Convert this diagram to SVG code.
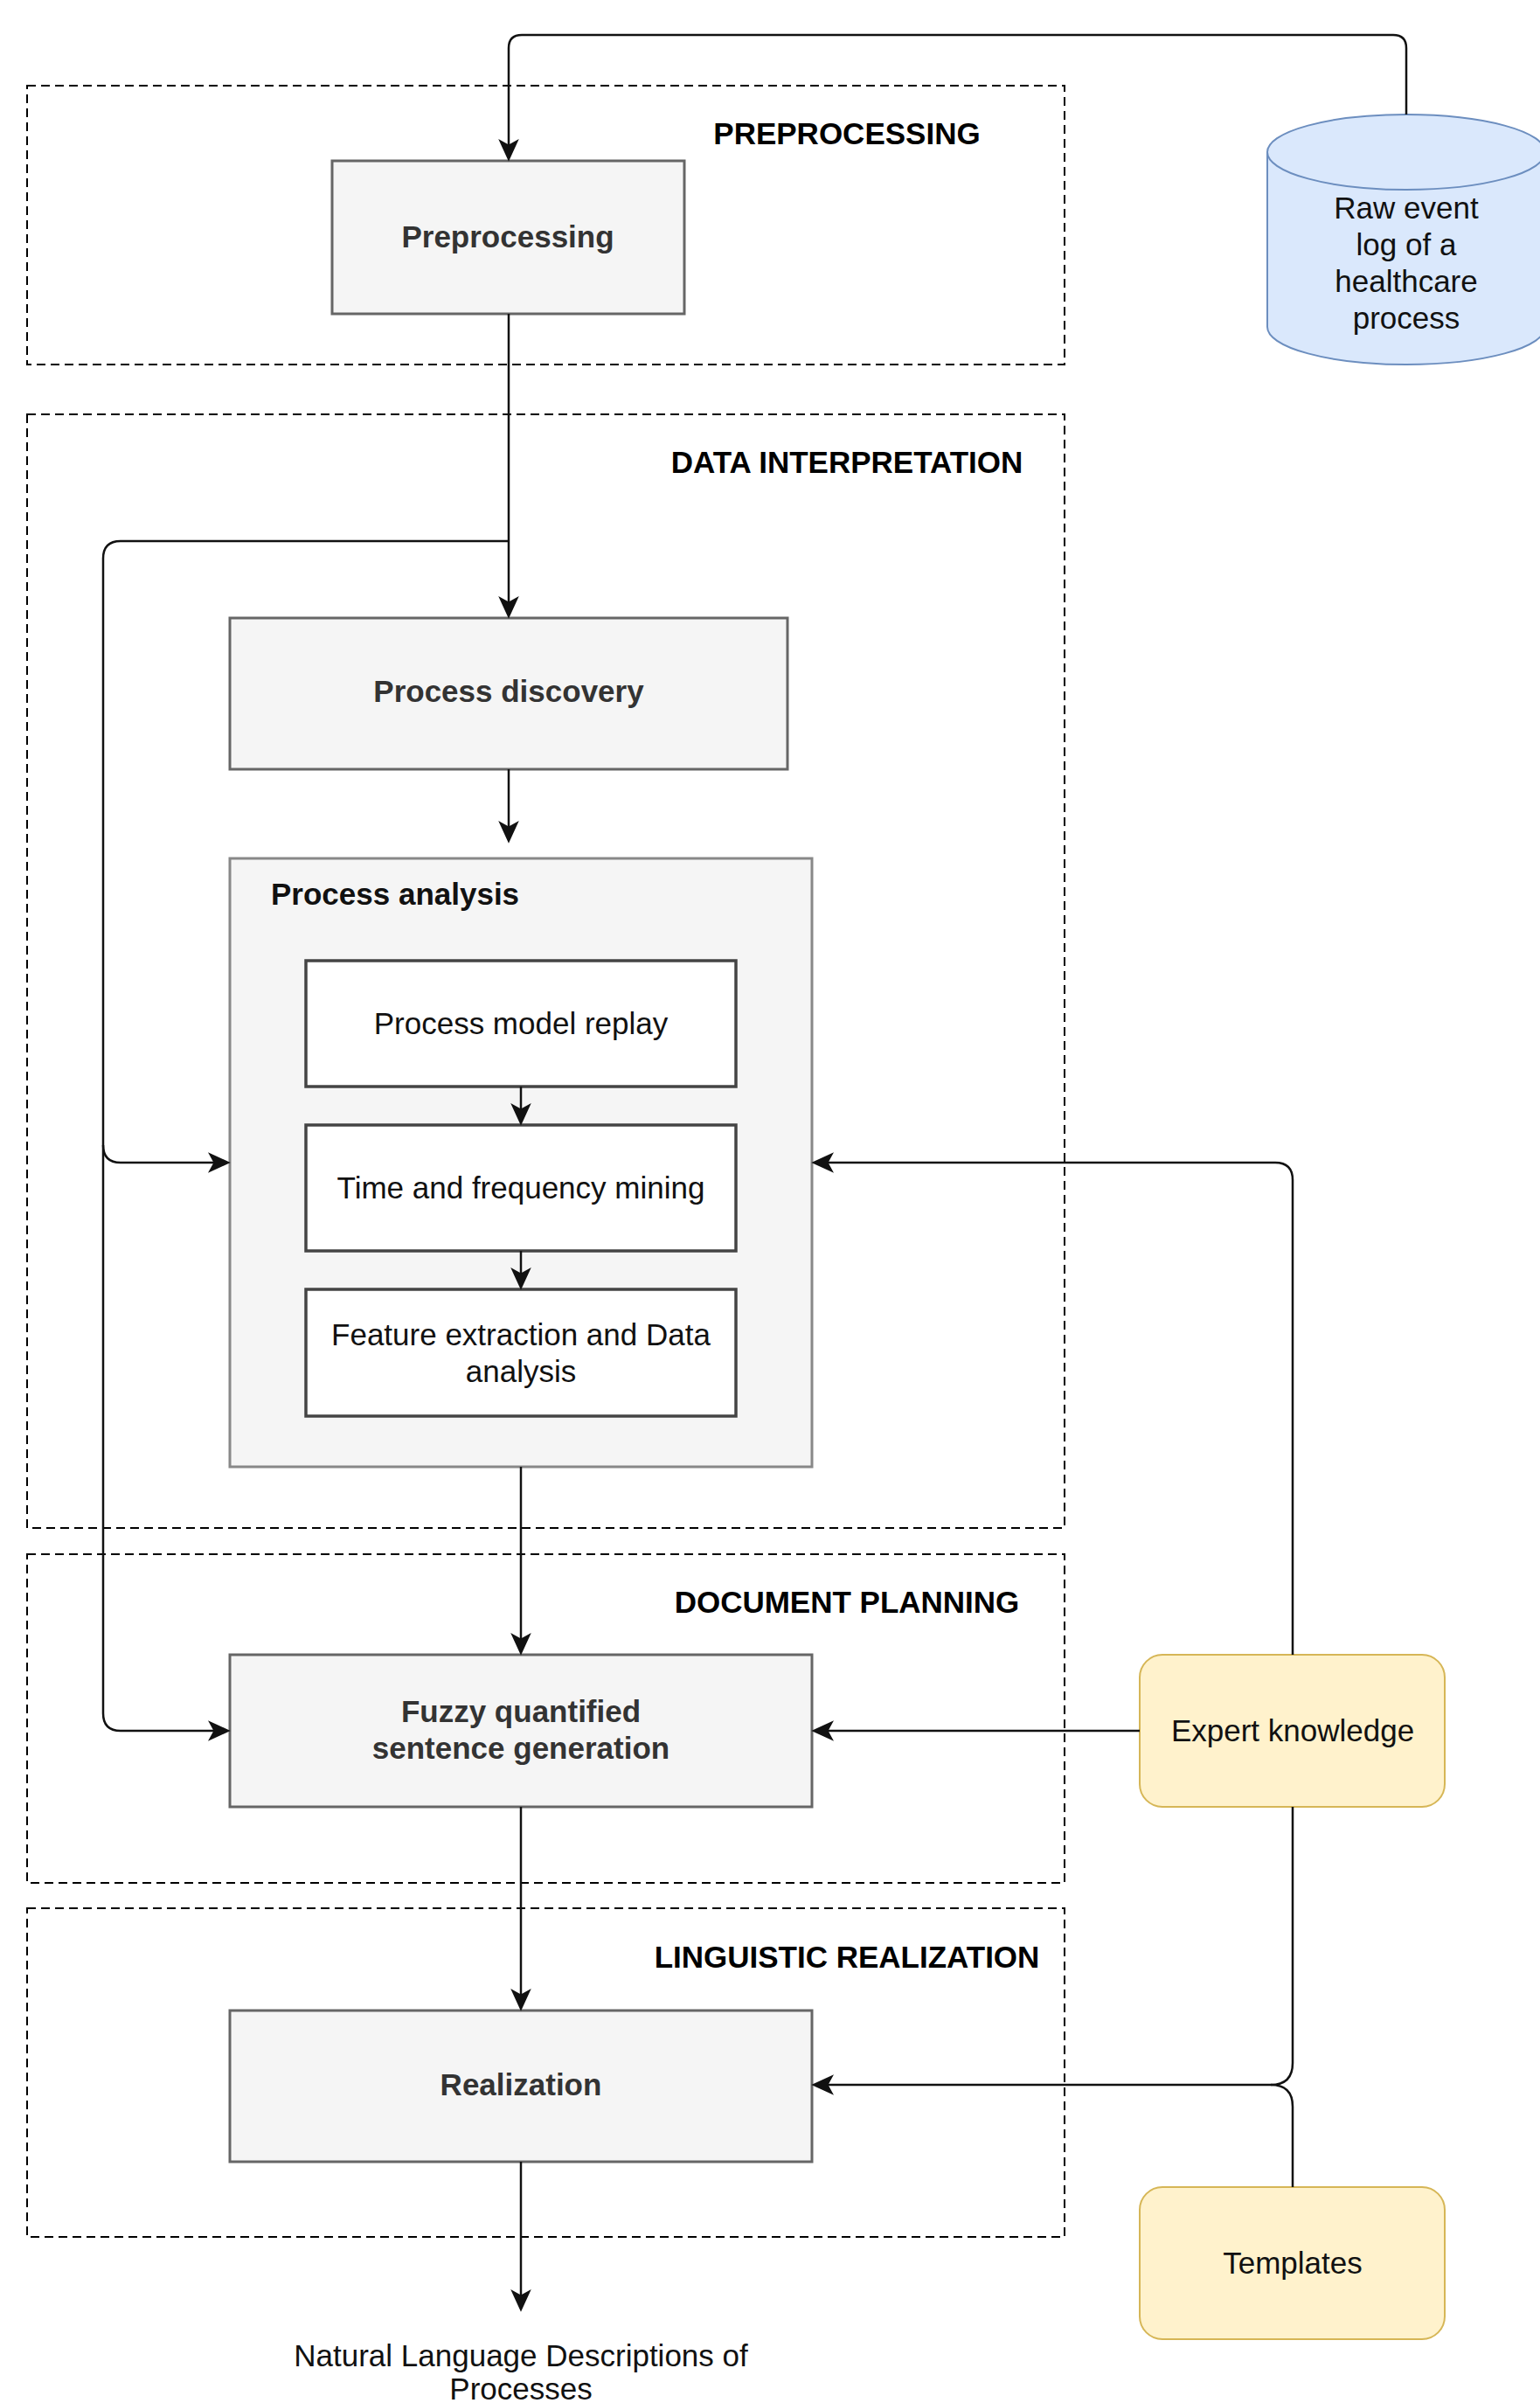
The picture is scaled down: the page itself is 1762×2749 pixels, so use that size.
<svg xmlns="http://www.w3.org/2000/svg" width="1762" height="2749" viewBox="0 0 1762 2749">
<style>
text{font-family:"Liberation Sans",Arial,Helvetica,sans-serif;font-size:35px;text-anchor:middle}
.sec{font-weight:bold;fill:#000}
.bl{font-weight:bold;fill:#333}
.rg{fill:#111}
.dash{fill:none;stroke:#000;stroke-width:2;stroke-dasharray:10 6}
.gbox{fill:#f5f5f5;stroke:#666;stroke-width:3}
.wbox{fill:#fff;stroke:#444;stroke-width:3.5}
.ybox{fill:#fff2cc;stroke:#d6b656;stroke-width:2}
.cn{fill:none;stroke:#111;stroke-width:2.5}
.cna{fill:none;stroke:#111;stroke-width:2.5;marker-end:url(#arr)}
</style>
<defs>
<marker id="arr" markerUnits="userSpaceOnUse" markerWidth="30" markerHeight="30" viewBox="-16 -13 28 26" refX="0" refY="0" orient="auto">
<path d="M10,0 L-14,-11 L-8,0 L-14,11 Z" fill="#111"/>
</marker>
</defs>
<rect width="1762" height="2749" fill="#fff"/>

<g id="sections">
<g id="sec-preprocessing"><rect class="dash" x="31" y="98" width="1187" height="319"/><text class="sec" x="969" y="165">PREPROCESSING</text></g>
<g id="sec-data"><rect class="dash" x="31" y="474" width="1187" height="1274"/><text class="sec" x="969" y="541">DATA INTERPRETATION</text></g>
<g id="sec-doc"><rect class="dash" x="31" y="1778" width="1187" height="376"/><text class="sec" x="969" y="1845">DOCUMENT PLANNING</text></g>
<g id="sec-ling"><rect class="dash" x="31" y="2183" width="1187" height="376"/><text class="sec" x="969" y="2251">LINGUISTIC REALIZATION</text></g>
</g>

<g id="raw-event-log">
<path d="M1450,174 A159,43 0 0 1 1768,174 L1768,374 A159,43 0 0 1 1450,374 Z" fill="#dae8fc" stroke="#6c8ebf" stroke-width="2"/>
<path d="M1450,174 A159,43 0 0 0 1768,174" fill="none" stroke="#6c8ebf" stroke-width="2"/>
<text class="rg" x="1609" y="250">Raw event</text>
<text class="rg" x="1609" y="292">log of a</text>
<text class="rg" x="1609" y="334">healthcare</text>
<text class="rg" x="1609" y="376">process</text>
</g>

<g id="preprocessing"><rect class="gbox" x="380" y="184" width="403" height="175"/><text class="bl" x="581" y="283">Preprocessing</text></g>

<g id="process-discovery"><rect class="gbox" x="263" y="707" width="638" height="173"/><text class="bl" x="582" y="803">Process discovery</text></g>

<g id="process-analysis">
<rect x="263" y="982" width="666" height="696" fill="#f5f5f5" stroke="#888" stroke-width="3"/>
<text class="bl" x="310" y="1035" style="text-anchor:start;fill:#111">Process analysis</text>
</g>
<g id="process-model-replay"><rect class="wbox" x="350" y="1099" width="492" height="144"/><text class="rg" x="596" y="1183">Process model replay</text></g>
<g id="time-frequency-mining"><rect class="wbox" x="350" y="1287" width="492" height="144"/><text class="rg" x="596" y="1371">Time and frequency mining</text></g>
<g id="feature-extraction"><rect class="wbox" x="350" y="1475" width="492" height="145"/><text class="rg" x="596" y="1539">Feature extraction and Data</text><text class="rg" x="596" y="1581">analysis</text></g>

<g id="fuzzy"><rect class="gbox" x="263" y="1893" width="666" height="174"/><text class="bl" x="596" y="1970">Fuzzy quantified</text><text class="bl" x="596" y="2012">sentence generation</text></g>

<g id="realization"><rect class="gbox" x="263" y="2300" width="666" height="173"/><text class="bl" x="596" y="2397">Realization</text></g>

<g id="expert-knowledge"><rect class="ybox" x="1304" y="1893" width="349" height="174" rx="26"/><text class="rg" x="1479" y="1992">Expert knowledge</text></g>
<g id="templates"><rect class="ybox" x="1304" y="2502" width="349" height="174" rx="26"/><text class="rg" x="1479" y="2601">Templates</text></g>

<g id="output"><text class="rg" x="596" y="2707">Natural Language Descriptions of</text><text class="rg" x="596" y="2745">Processes</text></g>

<g id="connectors">
<path class="cna" d="M1609,131 L1609,55 Q1609,40 1594,40 L597,40 Q582,40 582,55 L582,174"/>
<path class="cna" d="M582,359 L582,697"/>
<path class="cna" d="M582,619 L138,619 Q118,619 118,639 L118,1310 Q118,1330 138,1330 L253,1330"/>
<path class="cna" d="M118,1310 L118,1960 Q118,1980 138,1980 L253,1980"/>
<path class="cna" d="M582,880 L582,954"/>
<path class="cna" d="M596,1243 L596,1277"/>
<path class="cna" d="M596,1431 L596,1465"/>
<path class="cna" d="M596,1678 L596,1883"/>
<path class="cna" d="M596,2067 L596,2290"/>
<path class="cna" d="M596,2473 L596,2634"/>
<path class="cna" d="M1479,1893 L1479,1350 Q1479,1330 1459,1330 L939,1330"/>
<path class="cna" d="M1304,1980 L939,1980"/>
<path class="cna" d="M1479,2067 L1479,2360 Q1479,2385 1454,2385 L939,2385"/>
<path class="cn" d="M1479,2502 L1479,2410 Q1479,2385 1454,2385"/>
</g>
</svg>
